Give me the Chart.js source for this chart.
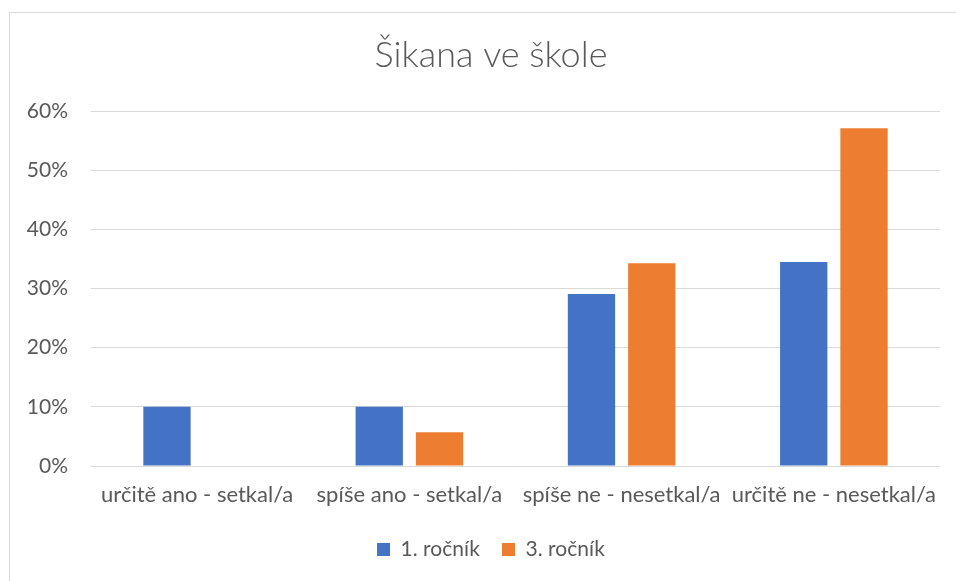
<!DOCTYPE html>
<html>
<head>
<meta charset="utf-8">
<script src="https://cdn.jsdelivr.net/npm/chart.js@4"></script>
<style>
  body { margin: 0; background: #fff; overflow: hidden; }
  #box { position: absolute; left: 9px; top: 12px; width: 963px; height: 569px;
         border-left: 1px solid #d9d9d9; border-top: 1px solid #d9d9d9; }
</style>
</head>
<body>
<div id="box"><canvas id="myChart" width="962" height="568"></canvas></div>
<script>
// data (percent)
const categories = ["určitě ano - setkal/a", "spíše ano - setkal/a", "spíše ne - nesetkal/a", "určitě ne - nesetkal/a"];
const rocnik1 = [10.0, 10.0, 29.1, 34.5];
const rocnik3 = [0, 5.7, 34.3, 57.1];
const seriesNames = ["1. ročník", "3. ročník"];
const titleText = "Šikana ve škole";

const textColor = "#595959";
const fontFamily = "Lato, 'Open Sans', sans-serif";

let ctx = document.getElementById("myChart").getContext("2d");
new Chart(ctx, {
  type: "bar",
  data: {
    labels: categories,
    datasets: [
      { label: seriesNames[0], data: rocnik1, backgroundColor: "#4472C4" },
      { label: seriesNames[1], data: rocnik3, backgroundColor: "#ED7D31" }
    ]
  },
  options: {
    responsive: false,
    animation: false,
    categoryPercentage: 0.568,
    barPercentage: 0.785,
    layout: { padding: { left: 0, right: 0, top: 0, bottom: 11 } },
    plugins: {
      title: {
        display: true,
        text: titleText,
        color: textColor,
        font: { family: fontFamily, size: 36, weight: 300 },
        padding: { top: 21, bottom: 34 }
      },
      legend: {
        position: "bottom",
        labels: {
          color: textColor,
          font: { family: fontFamily, size: 21 },
          boxWidth: 13,
          boxHeight: 13,
          padding: 22
        }
      },
      tooltip: { enabled: false }
    },
    scales: {
      x: {
        grid: { display: false, drawTicks: false },
        border: { display: false },
        afterFit: (scale) => { scale.height = 51; },
        ticks: {
          color: textColor,
          font: { family: fontFamily, size: 22 },
          padding: 16,
          maxRotation: 0,
          autoSkip: false
        }
      },
      y: {
        min: 0,
        max: 60,
        grid: { color: "#d9d9d9", lineWidth: 1, drawTicks: false },
        border: { display: false },
        afterFit: (scale) => { scale.width = 81; },
        ticks: {
          stepSize: 10,
          color: textColor,
          font: { family: fontFamily, size: 21 },
          padding: 23,
          callback: (v) => v + "%"
        }
      },
      // empty right axis, only keeps space on the right side
      yRight: {
        position: "right",
        min: 0,
        max: 60,
        grid: { display: false },
        border: { display: false },
        ticks: { display: false },
        afterFit: (scale) => { scale.width = 32; }
      }
    }
  }
});
</script>
</body>
</html>
